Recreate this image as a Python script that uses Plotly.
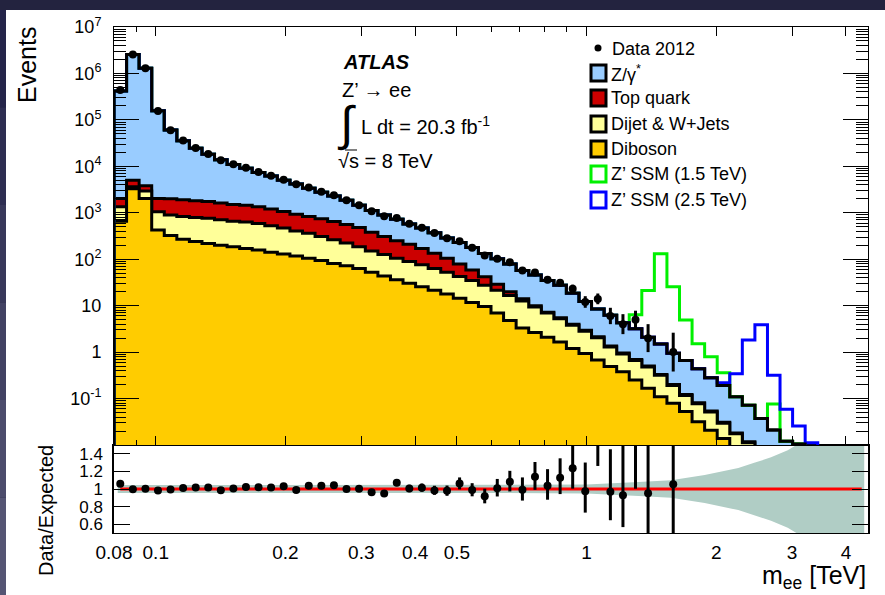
import numpy as np
import plotly.graph_objects as go

# ---------------- data ----------------
mass_min, mass_max, n_bins = 0.08, 4.5, 60   # TeV, log-uniform binning

# stacked background levels (events per bin), top of each layer
bkg_total = [417000, 2570000, 1290000, 158000, 60300, 35500, 24500, 18200, 13800, 11000,
             9120, 7410, 6170, 5010, 4170, 3390, 2750, 2290, 1860, 1450,
             1120, 891, 724, 575, 468, 372, 288, 229, 178, 132,
             102, 79.4, 57.5, 45.7, 34.7, 27.5, 18.6, 12.3, 8.5, 6.2,
             4.3, 3.2, 2.1, 1.5, 0.95, 0.66, 0.44, 0.28, 0.19, 0.11,
             0.072, 0.037, 0.021, 0.012, 0.0105, 0, 0, 0, 0, 0]
cum_top = [2040, 5010, 3800, 2040, 2000, 1910, 1820, 1740, 1620, 1510,
           1450, 1350, 1200, 1070, 933, 832, 741, 646, 562, 479,
           380, 309, 251, 209, 170, 135, 105, 79.4, 58.9, 41.7,
           28.8, 20.0, 14.1, 10.0, 7.24, 5.50, 3.98, 2.95, 2.14, 1.35,
           0.955, 0.692, 0.501, 0.331, 0.200, 0.123, 0.0813, 0.0537, 0.0309, 0.0182,
           0.0117, 0, 0, 0, 0, 0, 0, 0, 0, 0]
cum_dijet = [1350, 3630, 2950, 1050, 891, 832, 794, 759, 708, 661,
             631, 589, 525, 468, 407, 363, 309, 263, 224, 186,
             151, 126, 105, 89.1, 75.9, 63.1, 52.5, 42.7, 34.7, 27.5,
             21.4, 16.6, 12.6, 9.33, 6.92, 5.25, 3.80, 2.82, 2.04, 1.29,
             0.912, 0.661, 0.479, 0.316, 0.191, 0.117, 0.0776, 0.0513, 0.0295, 0.0174,
             0.0112, 0, 0, 0, 0, 0, 0, 0, 0, 0]
cum_diboson = [661, 3310, 2040, 427, 324, 269, 240, 219, 200, 186,
               170, 158, 141, 129, 117, 105, 93.3, 81.3, 72.4, 63.1,
               52.5, 43.7, 36.3, 30.2, 25.7, 21.4, 17.8, 14.5, 11.7, 9.55,
               6.92, 4.79, 3.31, 2.63, 2.09, 1.66, 1.20, 0.933, 0.676, 0.490,
               0.380, 0.251, 0.166, 0.110, 0.0794, 0.0525, 0.0316, 0.0209, 0.0138, 0,
               0, 0, 0, 0, 0, 0, 0, 0, 0, 0]

# signal contributions on top of background (events per bin)
sig_1p5 = [0]*41 + [3.15, 19.2, 130, 24.7, 4.24, 1.07, 0.51, 0.17, 0, 0, 0, 0.055] + [0]*7
sig_2p5 = [0]*48 + [0.029, 0.23, 1.75, 3.85, 0.295, 0.047, 0.015, 0.0112] + [0]*4

# observed data 2012
data_obs = [442000, 2560000, 1293000, 155500, 60000, 35900, 24900, 18500, 13600, 11050,
            9330, 7550, 6280, 5160, 4120, 3520, 2850, 2390, 1860, 1455,
            1080, 845, 775, 578, 475, 366, 282, 243, 176, 121,
            103, 86, 57, 52, 36, 31, 23, 12, 14, 6,
            4, 5, 2, 0, 1, 0, 0, 0, 0, 0,
            0, 0, 0, 0, 0, 0, 0, 0, 0, 0]

# systematic band of the ratio (mass in TeV, relative half-width)
band_mass = [0.0816, 0.3, 0.6, 1.0, 1.32, 1.57, 1.88, 2.25, 2.46, 2.68, 2.93, 3.07, 3.3, 4.41]
band_unc = [0.045, 0.045, 0.045, 0.05, 0.08, 0.10, 0.16, 0.24, 0.30, 0.36, 0.44, 0.50, 0.65, 0.8]

x_tickvals = [0.08, 0.1, 0.2, 0.3, 0.4, 0.5, 1, 2, 3, 4]
x_ticktext = ["0.08", "0.1", "0.2", "0.3", "0.4", "0.5", "1", "2", "3", "4"]
y_tickvals = [0.1, 1, 10, 1e2, 1e3, 1e4, 1e5, 1e6, 1e7]
y_ticktext = ["10<sup>-1</sup>", "1", "10", "10<sup>2</sup>", "10<sup>3</sup>",
              "10<sup>4</sup>", "10<sup>5</sup>", "10<sup>6</sup>", "10<sup>7</sup>"]
r_tickvals = [0.6, 0.8, 1.0, 1.2, 1.4]
r_ticktext = ["0.6", "0.8", "1", "1.2", "1.4"]

# ---------------- layout geometry ----------------
W, H = 885, 595
ML, MR, MT, MB = 114, 17, 27, 62
PW, PH = W - ML - MR, H - MT - MB
SPLIT = (H - MB - 445) / PH
FONT = "Liberation Sans, Arial, Helvetica, sans-serif"

def px(x):
    return (x - ML) / PW

def py(y):
    return (H - MB - y) / PH

edges = np.geomspace(mass_min, mass_max, n_bins + 1)
centers = np.sqrt(edges[:-1] * edges[1:])
TINY = 1e-6

def step(vals):
    v = np.array(vals, dtype=float)
    v = np.where(v > 0, v, TINY)
    xs = np.concatenate([[edges[0]], edges])
    ys = np.concatenate([[TINY], v, [v[-1]]])
    return xs, ys

fig = go.Figure()

# stacked background fills (drawn from the top layer down)
layers = [(bkg_total, "#99CCFF"), (cum_top, "#CC0000"),
          (cum_dijet, "#FFFF99"), (cum_diboson, "#FFCC00")]
for vals, col in layers:
    xs, ys = step(vals)
    fig.add_trace(go.Scatter(x=xs, y=ys, mode="lines", xaxis="x2", yaxis="y2",
                             line=dict(shape="hv", color="black", width=3),
                             fill="tozeroy", fillcolor=col, hoverinfo="skip"))

tot = np.array(bkg_total, dtype=float)
for sig, col in [(sig_1p5, "#00F000"), (sig_2p5, "#0000FF")]:
    xs, ys = step(tot + np.array(sig))
    fig.add_trace(go.Scatter(x=xs, y=ys, mode="lines", xaxis="x2", yaxis="y2",
                             line=dict(shape="hv", color=col, width=3), hoverinfo="skip"))

# black outline of the total on top
xs, ys = step(bkg_total)
fig.add_trace(go.Scatter(x=xs, y=ys, mode="lines", xaxis="x2", yaxis="y2",
                         line=dict(shape="hv", color="black", width=3), hoverinfo="skip"))

# data with Poisson error bars
d = np.array(data_obs, dtype=float)
m = d > 0
err_up = 0.5 + np.sqrt(d + 0.25)
err_dn = np.sqrt(d + 0.25) - 0.5
ex, ey = [], []
for c, n, u, l in zip(centers[m], d[m], err_up[m], err_dn[m]):
    ex += [c, c, None]
    ey += [max(n - l, TINY), n + u, None]
fig.add_trace(go.Scatter(x=ex, y=ey, mode="lines", xaxis="x2", yaxis="y2",
                         line=dict(color="black", width=3), hoverinfo="skip"))
fig.add_trace(go.Scatter(x=centers[m], y=d[m], mode="markers", xaxis="x2", yaxis="y2",
                         marker=dict(color="black", size=8), hoverinfo="skip"))

# ratio panel
bx = list(band_mass) + list(band_mass[::-1])
by = [1 + u for u in band_unc] + [1 - u for u in band_unc[::-1]]
fig.add_trace(go.Scatter(x=bx, y=by, mode="lines", fill="toself", fillcolor="#B0CDC5",
                         line=dict(width=0, color="#B0CDC5"), xaxis="x", yaxis="y",
                         hoverinfo="skip"))
fig.add_trace(go.Scatter(x=[centers[0], centers[-1]], y=[1, 1], mode="lines",
                         line=dict(color="#FF0000", width=3), xaxis="x", yaxis="y",
                         hoverinfo="skip"))
mr = m & (tot > 0)
ratio = d[mr] / tot[mr]
rex, rey = [], []
for c, n, u, l, b in zip(centers[mr], d[mr], err_up[mr], err_dn[mr], tot[mr]):
    rex += [c, c, None]
    rey += [(n - l) / b, (n + u) / b, None]
fig.add_trace(go.Scatter(x=rex, y=rey, mode="lines", xaxis="x", yaxis="y",
                         line=dict(color="black", width=3), hoverinfo="skip"))
fig.add_trace(go.Scatter(x=centers[mr], y=ratio, mode="markers", xaxis="x", yaxis="y",
                         marker=dict(color="black", size=8), hoverinfo="skip"))

# ---------------- axes ----------------
xr = [np.log10(mass_min), np.log10(mass_max)]
minor_x = [0.09, 0.6, 0.7, 0.8, 0.9]
minor_y = [k * 10.0 ** e for e in range(-2, 7) for k in range(2, 10)]

fig.update_layout(
    width=W, height=H, margin=dict(l=ML, r=MR, t=MT, b=MB, pad=0),
    paper_bgcolor="#23233F", plot_bgcolor="white", showlegend=False,
    font=dict(family=FONT, color="black"),
    xaxis=dict(type="log", range=xr, domain=[0, 1], anchor="y",
               tickvals=x_tickvals, ticktext=x_ticktext, ticks="",
               tickfont=dict(size=19), showline=True, linecolor="black", linewidth=1,
               mirror=True, showgrid=False, zeroline=False, ticklabelstandoff=2,
               automargin=False),
    xaxis2=dict(type="log", range=xr, domain=[0, 1], anchor="y2", matches="x",
                tickvals=[0.1, 0.2, 0.3, 0.4, 0.5, 1, 2, 3, 4], showticklabels=False,
                ticks="inside", ticklen=9, tickwidth=1, tickcolor="black",
                minor=dict(tickvals=minor_x, ticks="inside", ticklen=5, tickcolor="black"),
                showline=True, linecolor="black", linewidth=1, mirror="ticks",
                showgrid=False, zeroline=False, automargin=False),
    yaxis=dict(range=[0.5, 1.5], domain=[0, SPLIT], anchor="x",
               tickvals=r_tickvals, ticktext=r_ticktext, ticks="inside", ticklen=16,
               tickcolor="black", tickfont=dict(size=17), showline=True,
               linecolor="black", linewidth=1.5, mirror="ticks", showgrid=False,
               zeroline=False, ticklabelstandoff=6, automargin=False),
    yaxis2=dict(type="log", range=[-2, 7], domain=[SPLIT, 1], anchor="x2",
                tickvals=y_tickvals, ticktext=y_ticktext, ticks="inside", ticklen=25,
                tickcolor="black", tickfont=dict(size=18),
                minor=dict(tickvals=minor_y, ticks="inside", ticklen=12, tickcolor="black"),
                showline=True, linecolor="black", linewidth=1, mirror="ticks",
                showgrid=False, zeroline=False, ticklabelstandoff=8, automargin=False),
)

# ---------------- background panel ----------------
shapes = [dict(type="rect", xref="paper", yref="paper", x0=px(6), x1=px(885),
               y0=py(595), y1=py(10), fillcolor="white", line=dict(width=0), layer="below")]
grad = ["#25254A", "#2E2E52", "#38385A", "#424263", "#4C4C6C", "#555574"]
for i, gcol in enumerate(grad):
    shapes.append(dict(type="rect", xref="paper", yref="paper", x0=px(0), x1=px(6),
                       y0=py(10 + (i + 1) * 585 / 6), y1=py(10 + i * 585 / 6),
                       fillcolor=gcol, line=dict(width=0), layer="below"))

# overline of the square root
shapes.append(dict(type="line", xref="paper", yref="paper", x0=px(345), x1=px(357),
                   y0=py(150), y1=py(150), line=dict(color="black", width=1)))

# legend symbols
shapes.append(dict(type="circle", xref="paper", yref="paper", x0=px(594.5), x1=px(601.5),
                   y0=py(51.5), y1=py(44.5), fillcolor="black", line=dict(width=0)))
legend_rows = [("Z/γ<sup>*</sup>", "#99CCFF", "black", 73),
               ("Top quark", "#CC0000", "black", 98),
               ("Dijet &amp; W+Jets", "#FFFF99", "black", 124),
               ("Diboson", "#FFCC00", "black", 149),
               ("Z’ SSM (1.5 TeV)", "white", "#00F000", 174),
               ("Z’ SSM (2.5 TeV)", "white", "#0000FF", 200)]
annotations = [dict(text="Data 2012", x=px(610), y=py(49), xanchor="left", yanchor="middle",
                    font=dict(size=18))]
for label, fcol, lcol, yc in legend_rows:
    shapes.append(dict(type="rect", xref="paper", yref="paper", x0=px(591), x1=px(606),
                       y0=py(yc + 8), y1=py(yc - 8), fillcolor=fcol,
                       line=dict(color=lcol, width=3)))
    annotations.append(dict(text=label, x=px(609), y=py(yc), xanchor="left",
                            yanchor="middle", font=dict(size=18)))

# ATLAS label block
annotations += [
    dict(text="<b><i>ATLAS</i></b>", x=px(341), y=py(62), xanchor="left", yanchor="middle",
         font=dict(size=20)),
    dict(text="Z’ → ee", x=px(340), y=py(90), xanchor="left", yanchor="middle",
         font=dict(size=20)),
    dict(text="∫", x=px(346), y=py(124), xanchor="center", yanchor="middle",
         font=dict(size=48)),
    dict(text="L dt = 20.3 fb<sup>-1</sup>", x=px(359), y=py(125), xanchor="left",
         yanchor="middle", font=dict(size=20)),
    dict(text="√s = 8 TeV", x=px(336), y=py(161), xanchor="left", yanchor="middle",
         font=dict(size=20)),
    dict(text="Events", x=px(27), y=py(65), textangle=-90, xanchor="center",
         yanchor="middle", font=dict(size=25)),
    dict(text="Data/Expected", x=px(46), y=py(511), textangle=-90, xanchor="center",
         yanchor="middle", font=dict(size=20)),
    dict(text="m<sub>ee</sub> [TeV]", x=px(868), y=py(577), xanchor="right",
         yanchor="middle", font=dict(size=25)),
]
for a in annotations:
    a.setdefault("xref", "paper")
    a.setdefault("yref", "paper")
    a.setdefault("showarrow", False)

fig.update_layout(shapes=shapes, annotations=annotations)
fig.write_html("out.html", config={"displayModeBar": False},
               post_script="document.body.style.margin='0px';"
                           "document.body.style.overflow='hidden';")
